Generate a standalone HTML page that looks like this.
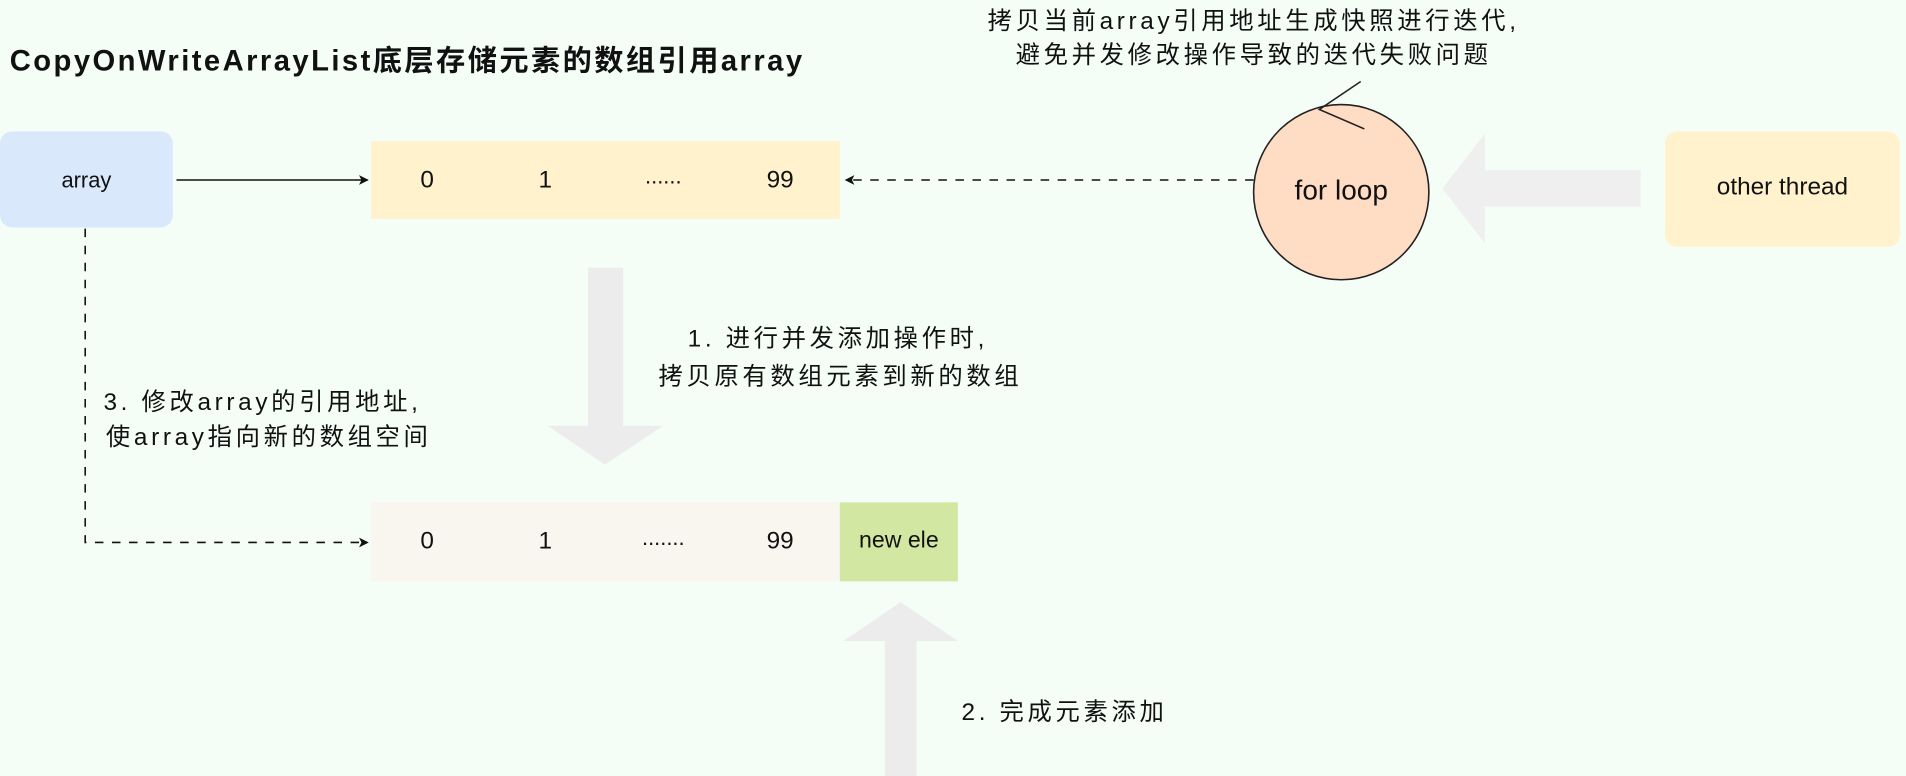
<!DOCTYPE html>
<html><head><meta charset="utf-8"><style>
html,body{margin:0;padding:0;background:#f4fef7;overflow:hidden}
#w{width:1906px;height:776px;position:relative;overflow:hidden;background:#f4fef7}
#s{position:absolute;left:0;top:0;width:1566px;height:638px;transform:scale(1.2171,1.2163);transform-origin:0 0;font-family:"Liberation Sans","Noto Sans CJK SC",sans-serif;color:#111}
.t{position:absolute;white-space:nowrap}
.c{font-size:20px;letter-spacing:3px}
</style></head><body><div id="w"><div id="s">
<svg width="1566" height="638" style="position:absolute;left:0;top:0">
<defs><marker id="a" markerWidth="10" markerHeight="10" refX="8" refY="5" orient="auto" markerUnits="userSpaceOnUse"><path d="M1,1 L9,5 L1,9 L3,5 Z" fill="#111"/></marker></defs>
<rect x="0" y="108" width="142" height="79" rx="10" fill="#dae8fc"/>
<rect x="305" y="116" width="385" height="64" fill="#fff2cc"/>
<rect x="1368" y="108" width="193" height="95" rx="10" fill="#fff2cc"/>
<rect x="305" y="413" width="385" height="65" fill="#f9f6ef"/>
<rect x="690" y="413" width="97" height="65" fill="#d2e8a2"/>
<line x1="145" y1="148" x2="302" y2="148" stroke="#111" stroke-width="1.3" marker-end="url(#a)"/>
<line x1="1030" y1="148" x2="695" y2="148" stroke="#111" stroke-width="1.3" stroke-dasharray="7,7" marker-end="url(#a)"/>
<polyline points="70,188 70,446 302,446" fill="none" stroke="#111" stroke-width="1.3" stroke-dasharray="7,7" marker-end="url(#a)"/>
<polygon points="1348,140 1220,140 1220,110 1185,155 1220,200 1220,170 1348,170" fill="#efefef"/>
<polygon points="483,220 512,220 512,350 545,350 497,382 450,350 483,350" fill="#ececec"/>
<polygon points="727,638 753,638 753,527 787,527 740,495 693,527 727,527" fill="#ececec"/>
<ellipse cx="1102" cy="158" rx="72" ry="72" fill="#ffdcc4" stroke="#222" stroke-width="1.3"/>
<polyline points="1118,67 1084,90 1121,106" fill="none" stroke="#222" stroke-width="1.3"/>
</svg>
<div class="t" style="left:8px;top:30px;font-size:24px;letter-spacing:2px;font-weight:bold">CopyOnWriteArrayList底层存储元素的数组引用array</div>
<div class="t" style="left:0;width:142px;top:138px;text-align:center;font-size:18px">array</div>
<div class="t" style="left:1368px;width:193px;top:143px;text-align:center;font-size:20px">other thread</div>
<div class="t" style="left:1030px;width:144px;top:143px;text-align:center;font-size:23px">for loop</div>
<div class="t c" style="left:780px;top:4px;width:500px;text-align:center;line-height:28px">拷贝当前array引用地址生成快照进行迭代,<br>避免并发修改操作导致的迭代失败问题</div>
<div class="t" style="left:336px;width:30px;top:137px;text-align:center;font-size:20px">0</div>
<div class="t" style="left:433px;width:30px;top:137px;text-align:center;font-size:20px">1</div>
<div class="t" style="left:520px;width:50px;top:135px;text-align:center;font-size:18px">......</div>
<div class="t" style="left:621px;width:40px;top:137px;text-align:center;font-size:20px">99</div>
<div class="t" style="left:336px;width:30px;top:434px;text-align:center;font-size:20px">0</div>
<div class="t" style="left:433px;width:30px;top:434px;text-align:center;font-size:20px">1</div>
<div class="t" style="left:520px;width:50px;top:432px;text-align:center;font-size:18px">.......</div>
<div class="t" style="left:621px;width:40px;top:434px;text-align:center;font-size:20px">99</div>
<div class="t" style="left:690px;width:97px;top:434px;text-align:center;font-size:19px">new ele</div>
<div class="t c" style="left:565px;top:262px">1. 进行并发添加操作时,</div>
<div class="t c" style="left:541px;top:293px">拷贝原有数组元素到新的数组</div>
<div class="t c" style="left:85px;top:314px">3. 修改array的引用地址,</div>
<div class="t c" style="left:87px;top:343px">使array指向新的数组空间</div>
<div class="t c" style="left:790px;top:569px">2. 完成元素添加</div>
</div></div></body></html>
